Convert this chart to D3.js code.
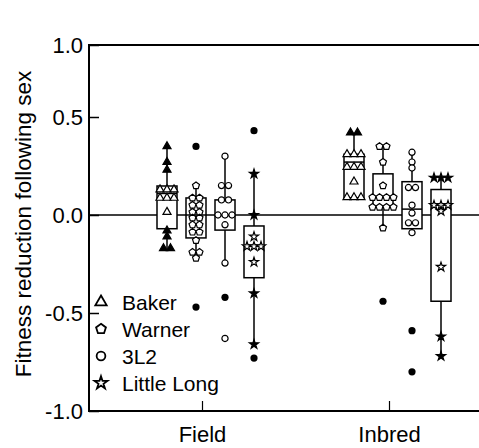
<!DOCTYPE html>
<html>
<head>
<meta charset="utf-8">
<script src="https://cdn.jsdelivr.net/npm/d3@7"></script>
<style>
  body { margin: 0; background: #fff; }
  svg { display: block; font-family: "Liberation Sans", Arial, sans-serif; }
</style>
</head>
<body>
<div class="chart"></div>
<script>
// categories
const groups = ['Field', 'Inbred'];
const lines = ['Baker', 'Warner', '3L2', 'Little Long'];
const yTicks = [-1, -0.5, 0, 0.5, 1];

// box stats, order: Field Baker, Warner, 3L2, Little Long, Inbred Baker, Warner, 3L2, Little Long
const whiskerLow = [-0.17, -0.22, -0.245, -0.66, 0.09, -0.066, -0.09, -0.72];
const q1 = [-0.07, -0.117, -0.077, -0.32, 0.087, 0.04, -0.07, -0.44];
const median = [0.11, 0.0, 0.0, -0.16, 0.27, 0.09, 0.03, 0.05];
const q3 = [0.148, 0.087, 0.077, -0.056, 0.31, 0.21, 0.17, 0.13];
const whiskerHigh = [0.35, 0.15, 0.30, 0.21, 0.42, 0.35, 0.32, 0.19];

// individual values
const points = [
  [0.35, 0.27, 0.23, 0.13, 0.13, 0.13, 0.087, 0.087, 0.087, 0.015, -0.08, -0.11, -0.17, -0.17],
  [0.15, 0.087, 0.087, 0.05, 0.05, 0.015, 0.015, -0.015, -0.015, -0.05, -0.05, -0.087, -0.087, -0.13, -0.19, -0.19, -0.22],
  [0.30, 0.15, 0.15, 0.077, 0.077, 0.0, 0.0, 0.0, -0.05, -0.245, -0.63],
  [0.21, 0.0, -0.11, -0.16, -0.16, -0.16, -0.24, -0.40, -0.66],
  [0.42, 0.42, 0.31, 0.31, 0.31, 0.245, 0.245, 0.245, 0.17, 0.09, 0.09, 0.09],
  [0.35, 0.35, 0.27, 0.15, 0.09, 0.09, 0.09, 0.09, 0.04, 0.04, 0.04, 0.04, -0.066],
  [0.32, 0.27, 0.24, 0.14, 0.14, 0.05, 0.01, -0.04, -0.04, -0.09],
  [0.19, 0.19, 0.19, 0.05, 0.05, 0.05, 0.02, -0.265, -0.62, -0.72]
];
// outliers drawn as filled dots
const outliers = [[], [0.35, -0.47], [-0.42], [0.43, -0.73], [], [-0.44], [-0.59, -0.80], []];

const width = 479;
const height = 448;

const pentagon = {
  draw(context, size) {
    const r = Math.sqrt(size / 2.378);
    for (let i = 0; i < 5; i++) {
      const a = -Math.PI / 2 + (i * 2 * Math.PI) / 5;
      const px = r * Math.cos(a);
      const py = r * Math.sin(a);
      if (i === 0) context.moveTo(px, py);
      else context.lineTo(px, py);
    }
    context.closePath();
  }
};

const symbols = [d3.symbolTriangle, pentagon, d3.symbolCircle, d3.symbolStar];
const sizes = [28, 32, 30, 26];

const y = d3.scaleLinear().domain([-1, 0.5, 1]).range([411, 117, 45]);
const xGroup = d3.scalePoint().domain(groups).range([202, 389]);
const xLine = d3.scalePoint().domain(lines).range([-35, 52]);

const svg = d3.select('.chart').append('svg').attr('width', width).attr('height', height);

// frame
svg.append('rect')
  .attr('x', 89).attr('y', y(1))
  .attr('width', 420).attr('height', y(-1) - y(1))
  .attr('fill', 'none').attr('stroke', '#000').attr('stroke-width', 2);

// zero line
svg.append('line')
  .attr('x1', 89).attr('x2', width)
  .attr('y1', y(0)).attr('y2', y(0))
  .attr('stroke', '#000').attr('stroke-width', 1.5);

const yAxis = svg.append('g')
  .attr('transform', 'translate(89,0)')
  .call(d3.axisLeft(y).tickValues(yTicks).tickSize(-10).tickPadding(6)
    .tickFormat(d => d3.format('.1f')(d).replace('\u2212', '-')))
  .attr('font-family', null).attr('font-size', 22);
yAxis.select('.domain').remove();
yAxis.selectAll('text').attr('fill', '#000');
yAxis.selectAll('line').attr('stroke-width', 1.5);

const xAxis = svg.append('g')
  .attr('transform', `translate(0,${y(-1)})`)
  .call(d3.axisBottom(xGroup).tickSize(-10).tickPadding(15))
  .attr('font-family', null).attr('font-size', 22);
xAxis.select('.domain').remove();
xAxis.selectAll('text').attr('fill', '#000');
xAxis.selectAll('line').attr('stroke-width', 1.2);

svg.append('text')
  .attr('transform', 'translate(31,224) rotate(-90)')
  .attr('text-anchor', 'middle')
  .attr('font-size', 22.5)
  .text('Fitness reduction following sex');

// boxes
const boxes = [];
groups.forEach((g, gi) => {
  lines.forEach((l, li) => {
    const i = gi * lines.length + li;
    boxes.push({
      group: g, line: l, li, cx: xGroup(g) + xLine(l),
      lo: whiskerLow[i], q1: q1[i], med: median[i], q3: q3[i], hi: whiskerHigh[i],
      values: points[i], out: outliers[i]
    });
  });
});

const bw = 20;
const box = svg.selectAll('.box').data(boxes).enter().append('g').attr('class', 'box');

box.append('line')
  .attr('x1', d => d.cx).attr('x2', d => d.cx)
  .attr('y1', d => y(d.hi)).attr('y2', d => y(d.lo))
  .attr('stroke', '#000').attr('stroke-width', 1.5);

box.append('rect')
  .attr('x', d => d.cx - bw / 2).attr('width', bw)
  .attr('y', d => y(d.q3)).attr('height', d => y(d.q1) - y(d.q3))
  .attr('fill', '#fff').attr('stroke', '#000').attr('stroke-width', 1.5);

box.append('line')
  .attr('x1', d => d.cx - bw / 2).attr('x2', d => d.cx + bw / 2)
  .attr('y1', d => y(d.med)).attr('y2', d => y(d.med))
  .attr('stroke', '#000').attr('stroke-width', 1.5);

// spread equal values sideways
box.each(function (d) {
  const counts = d3.rollup(d.values, v => v.length, v => v.toFixed(3));
  const seen = {};
  const pts = d.values.map(v => {
    const k = v.toFixed(3);
    const n = counts.get(k);
    seen[k] = (seen[k] || 0);
    const off = (seen[k] - (n - 1) / 2) * 7;
    seen[k]++;
    const outside = v > d.q3 || v < d.q1;
    const filled = outside && (d.li === 0 || d.li === 3);
    return { v, off, filled };
  });
  d3.select(this).selectAll('path.pt').data(pts).enter().append('path')
    .attr('class', 'pt')
    .attr('transform', p => `translate(${d.cx + p.off},${y(p.v)})`)
    .attr('d', d3.symbol(symbols[d.li], sizes[d.li]))
    .attr('fill', p => (p.filled ? '#000' : '#fff'))
    .attr('stroke', '#000').attr('stroke-width', 1.2);

  d3.select(this).selectAll('circle.out').data(d.out).enter().append('circle')
    .attr('class', 'out')
    .attr('cx', d.cx).attr('cy', v => y(v)).attr('r', 3.6)
    .attr('fill', '#000');
});

// legend
const legend = svg.selectAll('.legend').data(lines).enter().append('g')
  .attr('class', 'legend')
  .attr('transform', (d, i) => `translate(101,${302 + i * 27})`);
legend.append('path')
  .attr('d', (d, i) => d3.symbol(symbols[i], sizes[i] * 2)())
  .attr('fill', '#fff').attr('stroke', '#000').attr('stroke-width', 1.8);
legend.append('text')
  .attr('x', 21).attr('y', 7.5)
  .attr('font-size', 21)
  .text(d => d);
</script>
</body>
</html>
